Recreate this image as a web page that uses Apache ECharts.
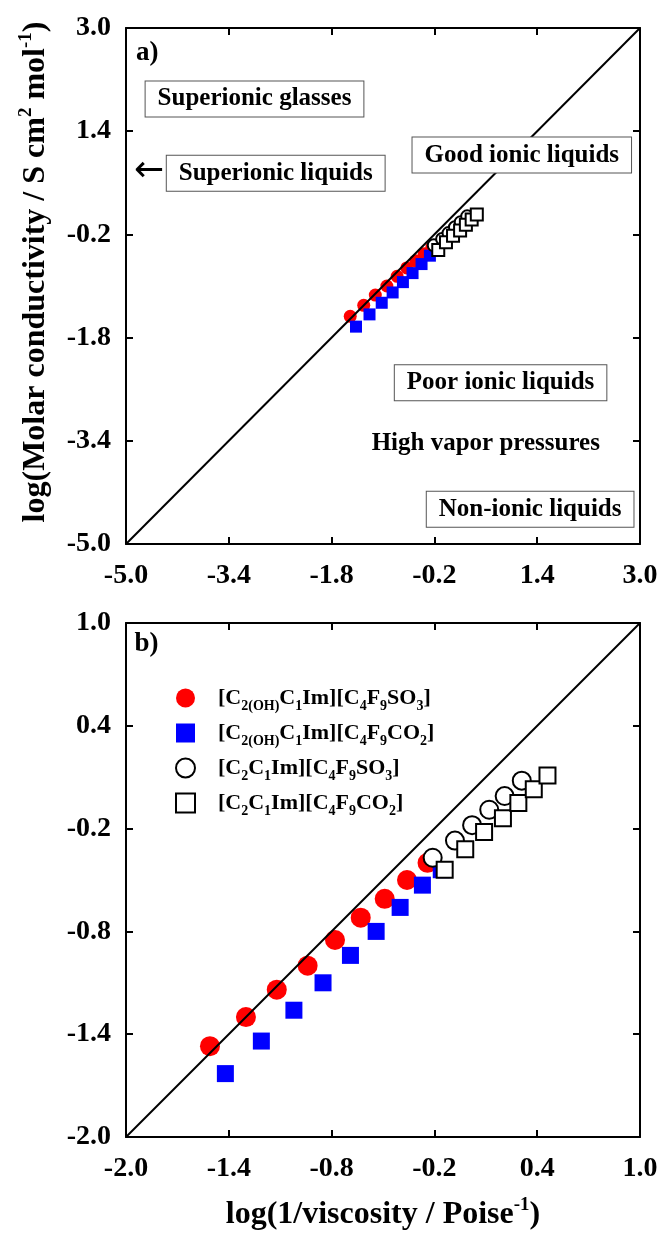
<!DOCTYPE html>
<html>
<head>
<meta charset="utf-8">
<script src="https://cdn.jsdelivr.net/npm/echarts@6/dist/echarts.min.js"></script>
<style>html,body{margin:0;padding:0;background:#fff}#c{width:662px;height:1235px}</style>
</head>
<body>
<div id="c"></div>
<script>
// ---- data (log values) ----
const redX = [-1.51, -1.30, -1.12, -0.94, -0.78, -0.63, -0.49, -0.36, -0.24];
const redY = [-1.47, -1.30, -1.14, -1.00, -0.85, -0.72, -0.61, -0.50, -0.40];
const blueX = [-1.42, -1.21, -1.02, -0.85, -0.69, -0.54, -0.40, -0.27, -0.16];
const blueY = [-1.63, -1.44, -1.26, -1.10, -0.94, -0.80, -0.66, -0.53, -0.44];
const openCircX = [-0.21, -0.08, 0.02, 0.12, 0.21, 0.31];
const openCircY = [-0.37, -0.27, -0.18, -0.09, -0.01, 0.08];
const openSqX = [-0.14, -0.02, 0.09, 0.20, 0.29, 0.38, 0.46];
const openSqY = [-0.44, -0.32, -0.22, -0.14, -0.05, 0.03, 0.11];

const ticksA = [-5.0, -3.4, -1.8, -0.2, 1.4, 3.0];
const ticksB = [-2.0, -1.4, -0.8, -0.2, 0.4, 1.0];
const idealA = [[-5, -5], [3, 3]];
const idealB = [[-2, -2], [1, 1]];

const seriesNames = ['[C2(OH)C1Im][C4F9SO3]', '[C2(OH)C1Im][C4F9CO2]', '[C2C1Im][C4F9SO3]', '[C2C1Im][C4F9CO2]'];
const seriesRich = [
  '{g| }{n|[C}{s|2(OH)}{n|C}{s|1}{n|Im][C}{s|4}{n|F}{s|9}{n|SO}{s|3}{n|]}',
  '{g| }{n|[C}{s|2(OH)}{n|C}{s|1}{n|Im][C}{s|4}{n|F}{s|9}{n|CO}{s|2}{n|]}',
  '{g| }{n|[C}{s|2}{n|C}{s|1}{n|Im][C}{s|4}{n|F}{s|9}{n|SO}{s|3}{n|]}',
  '{g| }{n|[C}{s|2}{n|C}{s|1}{n|Im][C}{s|4}{n|F}{s|9}{n|CO}{s|2}{n|]}'
];

// annotation texts with their anchor in data units
const annotA = [
  {text: 'a)', x: -4.67, y: 2.61, box: false},
  {text: 'Superionic glasses', x: -3.0, y: 1.90, box: true},
  {text: '←', x: -4.64, y: 0.77, box: false, arrow: true},
  {text: 'Superionic liquids', x: -2.67, y: 0.75, box: true},
  {text: 'Good ionic liquids', x: 1.16, y: 1.03, box: true},
  {text: 'Poor ionic liquids', x: 0.83, y: -2.50, box: true},
  {text: 'High vapor pressures', x: 0.60, y: -3.45, box: false},
  {text: 'Non-ionic liquids', x: 1.29, y: -4.46, box: true}
];
const annotB = [
  {text: 'b)', x: -1.88, y: 0.88, box: false}
];

const FF = '"Liberation Serif","Times New Roman",serif';
const zip = (xs, ys) => xs.map((x, i) => [x, ys[i]]);
const fmt = v => Number(v).toFixed(1);

function xAx(grid, pos, min, max, ticks, labels, extra) {
  return Object.assign({
    type: 'value', gridIndex: grid, position: pos, min: min, max: max,
    axisLine: {show: true, onZero: false, lineStyle: {color: '#000', width: 2}},
    axisTick: {show: true, inside: true, length: 7, customValues: ticks, lineStyle: {color: '#000', width: 2}},
    axisLabel: {show: labels, customValues: ticks, formatter: fmt, margin: 18,
      color: '#000', fontFamily: FF, fontWeight: 'bold', fontSize: 28},
    splitLine: {show: false}
  }, extra || {});
}
function yAx(grid, pos, min, max, ticks, labels, extra) {
  return Object.assign({
    type: 'value', gridIndex: grid, position: pos, min: min, max: max,
    axisLine: {show: true, onZero: false, lineStyle: {color: '#000', width: 2}},
    axisTick: {show: true, inside: true, length: 7, customValues: ticks, lineStyle: {color: '#000', width: 2}},
    axisLabel: {show: labels, customValues: ticks, formatter: fmt, margin: 15,
      color: '#000', fontFamily: FF, fontWeight: 'bold', fontSize: 28},
    splitLine: {show: false}
  }, extra || {});
}

const titleStyle = {
  color: '#000', fontFamily: FF, fontWeight: 'bold', fontSize: 32, lineHeight: 38,
  rich: {sup: {fontFamily: FF, fontWeight: 'bold', fontSize: 19, lineHeight: 19, verticalAlign: 'top', color: '#000'}}
};

function annotSeries(list, xi, yi) {
  return {
    type: 'scatter', xAxisIndex: xi, yAxisIndex: yi, symbolSize: 0, z: 5, silent: true,
    itemStyle: {color: 'rgba(0,0,0,0)', opacity: 1},
    data: list.map(a => ({
      value: [a.x, a.y], name: a.text,
      label: a.box ? {
        show: true, position: 'inside', formatter: '{b}', color: '#000', opacity: 1,
        fontFamily: FF, fontWeight: 'bold', fontSize: 25, lineHeight: 25,
        backgroundColor: '#fff', borderColor: '#555', borderWidth: 1, padding: [5, 12, 5, 12]
      } : a.arrow ? {
        show: true, position: 'inside', formatter: '{b}', color: '#000', opacity: 1,
        fontFamily: '"DejaVu Sans"', fontWeight: 'normal', fontSize: 36
      } : {
        show: true, position: 'inside', formatter: '{b}', color: '#000', opacity: 1,
        fontFamily: FF, fontWeight: 'bold', fontSize: a.text.length < 3 ? 27 : 25
      }
    }))
  };
}

function dataSeries(xi, yi, big) {
  return [
    {name: seriesNames[0], type: 'scatter', xAxisIndex: xi, yAxisIndex: yi, symbol: 'circle',
      symbolSize: big ? 20 : 13, itemStyle: {color: '#ff0000', opacity: 1}, data: zip(redX, redY), z: 2},
    {name: seriesNames[1], type: 'scatter', xAxisIndex: xi, yAxisIndex: yi, symbol: 'rect',
      symbolSize: big ? 17 : 12, itemStyle: {color: '#0000ff', opacity: 1}, data: zip(blueX, blueY), z: 2},
    {name: seriesNames[2], type: 'scatter', xAxisIndex: xi, yAxisIndex: yi, symbol: 'circle',
      symbolSize: big ? 18 : 12, itemStyle: {color: '#fff', borderColor: '#000', borderWidth: 2, opacity: 1},
      data: zip(openCircX, openCircY), z: 2},
    {name: seriesNames[3], type: 'scatter', xAxisIndex: xi, yAxisIndex: yi, symbol: 'rect',
      symbolSize: big ? 16 : 12, itemStyle: {color: '#fff', borderColor: '#000', borderWidth: 2, opacity: 1},
      data: zip(openSqX, openSqY), z: 2},
    {type: 'line', xAxisIndex: xi, yAxisIndex: yi, data: big ? idealB : idealA, symbol: 'none',
      lineStyle: {color: '#000', width: 2}, z: 3, silent: true}
  ];
}

const chart = echarts.init(document.getElementById('c'), null, {renderer: 'canvas'});
chart.setOption({
  animation: false,
  backgroundColor: '#fff',
  grid: [
    {left: 126, top: 28, width: 514, height: 516},
    {left: 126, top: 623, width: 514, height: 516}
  ],
  xAxis: [
    xAx(0, 'bottom', -5, 3, ticksA, true),
    xAx(0, 'top', -5, 3, ticksA, false),
    xAx(1, 'bottom', -2, 1, ticksB, true, {
      name: 'log(1/viscosity / Poise{sup|-1})', nameLocation: 'middle', nameGap: 59, nameTextStyle: titleStyle}),
    xAx(1, 'top', -2, 1, ticksB, false)
  ],
  yAxis: [
    yAx(0, 'left', -5, 3, ticksA, true, {
      name: 'log(Molar conductivity / S cm{sup|2} mol{sup|-1})', nameLocation: 'middle', nameGap: 71,
      nameTextStyle: Object.assign({}, titleStyle, {padding: [0, 0, 0, 28]})}),
    yAx(0, 'right', -5, 3, ticksA, false),
    yAx(1, 'left', -2, 1, ticksB, true),
    yAx(1, 'right', -2, 1, ticksB, false)
  ],
  legend: {
    orient: 'vertical', left: 170, top: 678, itemWidth: 19, itemHeight: 19, itemGap: 5,
    selectedMode: false,
    data: [
      {name: seriesNames[0], icon: 'circle', itemStyle: {color: '#ff0000', borderWidth: 0}},
      {name: seriesNames[1], icon: 'rect', itemStyle: {color: '#0000ff', borderWidth: 0}},
      {name: seriesNames[2], icon: 'circle', itemStyle: {color: '#fff', borderColor: '#000', borderWidth: 2}},
      {name: seriesNames[3], icon: 'rect', itemStyle: {color: '#fff', borderColor: '#000', borderWidth: 2}}
    ],
    formatter: name => seriesRich[seriesNames.indexOf(name)],
    textStyle: {
      color: '#000', fontFamily: FF, fontWeight: 'bold', fontSize: 22, lineHeight: 30,
      rich: {
        g: {width: 18, fontSize: 22, lineHeight: 30},
        n: {fontFamily: FF, fontWeight: 'bold', fontSize: 22, lineHeight: 30, color: '#000'},
        s: {fontFamily: FF, fontWeight: 'bold', fontSize: 14, lineHeight: 14, verticalAlign: 'bottom', color: '#000'}
      }
    }
  },
  series: [].concat(
    dataSeries(0, 0, false),
    dataSeries(2, 2, true),
    [annotSeries(annotA, 0, 0), annotSeries(annotB, 2, 2)]
  )
});
</script>
</body>
</html>
